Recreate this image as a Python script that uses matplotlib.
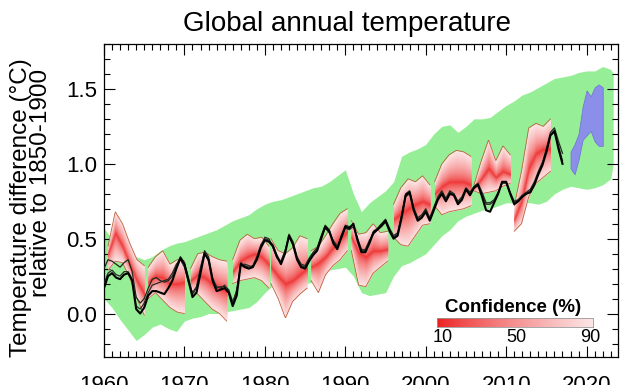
import numpy as np
import matplotlib.pyplot as plt
from matplotlib.colors import LinearSegmentedColormap
from matplotlib.ticker import MultipleLocator

plt.rcParams['font.family'] = ['Liberation Sans', 'DejaVu Sans']

# green envelope (yearly)
env_years = list(range(1960, 2024)) + [2023.3]
env_hi = [0.57, 0.50, 0.45, 0.42, 0.38, 0.36, 0.38, 0.42, 0.45, 0.47,
          0.48, 0.50, 0.52, 0.54, 0.56, 0.59, 0.62, 0.64, 0.66, 0.70,
          0.73, 0.75, 0.76, 0.78, 0.80, 0.82, 0.84, 0.85, 0.88, 0.92,
          0.96, 0.80, 0.68, 0.74, 0.78, 0.82, 0.88, 1.05, 1.08, 1.10,
          1.13, 1.20, 1.25, 1.26, 1.21, 1.25, 1.30, 1.30, 1.31, 1.35,
          1.39, 1.42, 1.46, 1.48, 1.51, 1.54, 1.57, 1.58, 1.59, 1.61,
          1.62, 1.62, 1.65, 1.63, 1.60]
env_lo = [0.10, 0.04, -0.04, -0.11, -0.18, -0.14, -0.09, -0.07, -0.10, -0.12,
          -0.05, -0.03, -0.02, 0.00, 0.00, 0.01, 0.02, 0.03, 0.04, 0.08,
          0.14, 0.19, 0.21, 0.22, 0.21, 0.20, 0.21, 0.25, 0.29, 0.30,
          0.31, 0.25, 0.14, 0.12, 0.13, 0.14, 0.25, 0.32, 0.34, 0.37,
          0.40, 0.46, 0.52, 0.56, 0.62, 0.65, 0.67, 0.69, 0.70, 0.72,
          0.74, 0.74, 0.74, 0.74, 0.73, 0.75, 0.80, 0.83, 0.85, 0.84,
          0.83, 0.84, 0.86, 0.90, 1.00]

# blue forecast region
blue_years = [2018.0, 2018.5, 2019.0, 2019.5, 2020.0, 2020.5, 2021.0, 2021.5, 2022.0]
blue_hi = [1.08, 1.13, 1.20, 1.38, 1.49, 1.45, 1.51, 1.53, 1.51]
blue_lo = [0.97, 0.93, 1.03, 1.16, 1.19, 1.22, 1.15, 1.12, 1.12]

# hindcast segments: start year, then 6 values over 4.5 years
seg_start = [1960.5, 1965.5, 1970.75, 1976.0, 1980.75, 1985.75,
             1990.75, 1996.0, 2001.1, 2006.0, 2011.0]
seg_hi = [[0.45, 0.68, 0.60, 0.47, 0.36, 0.32],
          [0.31, 0.38, 0.42, 0.33, 0.36, 0.35],
          [0.30, 0.40, 0.41, 0.38, 0.36, 0.35],
          [0.36, 0.49, 0.53, 0.50, 0.51, 0.45],
          [0.50, 0.42, 0.40, 0.44, 0.52, 0.50],
          [0.42, 0.45, 0.52, 0.60, 0.67, 0.70],
          [0.62, 0.53, 0.54, 0.60, 0.54, 0.55],
          [0.73, 0.84, 0.90, 0.88, 0.92, 0.86],
          [0.88, 1.00, 1.06, 1.09, 1.08, 1.05],
          [0.86, 1.02, 1.16, 1.02, 1.12, 1.06],
          [0.72, 0.95, 1.24, 1.27, 1.25, 1.30]]
seg_mid = [[0.40, 0.54, 0.45, 0.33, 0.22, 0.13],
           [0.21, 0.25, 0.24, 0.20, 0.20, 0.21],
           [0.22, 0.26, 0.24, 0.20, 0.17, 0.15],
           [0.28, 0.35, 0.38, 0.40, 0.38, 0.33],
           [0.31, 0.25, 0.20, 0.22, 0.26, 0.30],
           [0.31, 0.34, 0.38, 0.44, 0.50, 0.55],
           [0.51, 0.41, 0.38, 0.42, 0.42, 0.43],
           [0.63, 0.67, 0.70, 0.73, 0.75, 0.73],
           [0.80, 0.85, 0.88, 0.88, 0.88, 0.86],
           [0.84, 0.90, 0.97, 0.91, 0.95, 0.93],
           [0.63, 0.75, 0.97, 1.07, 1.10, 1.10]]
seg_lo = [[0.29, 0.35, 0.34, 0.24, 0.10, -0.01],
          [0.10, 0.14, 0.09, 0.04, 0.01, 0.00],
          [0.16, 0.13, 0.08, 0.03, 0.00, -0.05],
          [0.20, 0.22, 0.23, 0.24, 0.22, 0.17],
          [0.20, 0.10, -0.03, 0.08, 0.13, 0.17],
          [0.22, 0.14, 0.26, 0.32, 0.36, 0.42],
          [0.42, 0.19, 0.18, 0.27, 0.31, 0.35],
          [0.51, 0.46, 0.45, 0.52, 0.59, 0.60],
          [0.72, 0.66, 0.68, 0.69, 0.70, 0.72],
          [0.82, 0.80, 0.81, 0.82, 0.85, 0.87],
          [0.55, 0.60, 0.78, 0.87, 0.91, 0.95]]

# observations, half-yearly 1960-2017
obs_years = np.arange(1960.0, 2017.01, 0.5)
obs_a = [0.17, 0.25, 0.27, 0.24, 0.23, 0.26, 0.27, 0.22, 0.03, 0.00,
         0.04, 0.12, 0.15, 0.15, 0.14, 0.13, 0.17, 0.22, 0.30, 0.37,
         0.33, 0.22, 0.11, 0.14, 0.27, 0.40, 0.36, 0.22, 0.15, 0.16,
         0.17, 0.14, 0.05, 0.12, 0.33, 0.31, 0.30, 0.31, 0.36, 0.44,
         0.49, 0.48, 0.45, 0.38, 0.33, 0.40, 0.52, 0.46, 0.36, 0.31,
         0.30, 0.35, 0.39, 0.42, 0.50, 0.58, 0.55, 0.47, 0.43, 0.51,
         0.58, 0.57, 0.60, 0.49, 0.41, 0.41, 0.47, 0.54, 0.56, 0.59,
         0.62, 0.55, 0.50, 0.52, 0.64, 0.79, 0.81, 0.69, 0.62, 0.64,
         0.68, 0.62, 0.69, 0.76, 0.80, 0.75, 0.80, 0.79, 0.73, 0.76,
         0.83, 0.79, 0.84, 0.86, 0.78, 0.69, 0.68, 0.74, 0.80, 0.88,
         0.88, 0.80, 0.73, 0.75, 0.78, 0.80, 0.81, 0.86, 0.93, 0.99,
         1.08, 1.19, 1.22, 1.10, 1.00]
obs_b = [0.30, 0.36, 0.35, 0.33, 0.31, 0.34, 0.36, 0.28, 0.11, 0.07,
         0.10, 0.17, 0.23, 0.24, 0.22, 0.21, 0.22, 0.25, 0.32, 0.38,
         0.34, 0.24, 0.13, 0.17, 0.29, 0.42, 0.38, 0.24, 0.17, 0.18,
         0.18, 0.16, 0.08, 0.15, 0.34, 0.32, 0.31, 0.32, 0.38, 0.46,
         0.50, 0.49, 0.46, 0.39, 0.34, 0.41, 0.53, 0.48, 0.38, 0.33,
         0.32, 0.37, 0.41, 0.44, 0.52, 0.59, 0.56, 0.48, 0.44, 0.52,
         0.59, 0.58, 0.59, 0.50, 0.43, 0.42, 0.48, 0.55, 0.57, 0.60,
         0.63, 0.57, 0.52, 0.54, 0.66, 0.80, 0.82, 0.71, 0.64, 0.66,
         0.70, 0.64, 0.71, 0.78, 0.82, 0.77, 0.82, 0.80, 0.75, 0.78,
         0.84, 0.81, 0.85, 0.87, 0.81, 0.74, 0.74, 0.76, 0.81, 0.88,
         0.88, 0.81, 0.75, 0.76, 0.79, 0.81, 0.83, 0.88, 0.95, 1.01,
         1.10, 1.21, 1.24, 1.15, 1.07]
obs_c = [0.20, 0.27, 0.29, 0.26, 0.25, 0.28, 0.28, 0.23, 0.05, 0.03,
         0.07, 0.14, 0.19, 0.20, 0.21, 0.22, 0.23, 0.27, 0.33, 0.36,
         0.31, 0.21, 0.14, 0.18, 0.31, 0.41, 0.35, 0.23, 0.18, 0.17,
         0.19, 0.15, 0.06, 0.16, 0.32, 0.33, 0.32, 0.31, 0.37, 0.45,
         0.51, 0.50, 0.44, 0.37, 0.35, 0.42, 0.51, 0.47, 0.37, 0.32,
         0.31, 0.36, 0.40, 0.43, 0.51, 0.57, 0.54, 0.49, 0.45, 0.50,
         0.57, 0.56, 0.58, 0.51, 0.42, 0.43, 0.49, 0.53, 0.56, 0.58,
         0.61, 0.56, 0.51, 0.53, 0.65, 0.78, 0.80, 0.70, 0.63, 0.65,
         0.69, 0.63, 0.70, 0.77, 0.81, 0.76, 0.81, 0.80, 0.74, 0.77,
         0.83, 0.80, 0.84, 0.86, 0.80, 0.73, 0.73, 0.75, 0.80, 0.87,
         0.87, 0.80, 0.74, 0.76, 0.78, 0.80, 0.82, 0.87, 0.94, 1.00,
         1.08, 1.19, 1.21, 1.12, 1.02]

conf_labels = ['10', '50', '90']

red = np.array([0.93, 0.12, 0.12])
pale = np.array([0.99, 0.90, 0.90])

fig = plt.figure(figsize=(6.3, 3.85), dpi=100)
ax = fig.add_axes([104/630, 1-357/385, 514/630, 313/385])

ax.fill_between(env_years, env_lo, env_hi, color='#96ee96', lw=0, zorder=1)
ax.fill_between(blue_years, blue_lo, blue_hi, color='#8b8fea', edgecolor='#7477d8',
                lw=0.6, zorder=2)

offs = np.linspace(0, 4.5, 6)
for s, lo, mid, hi in zip(seg_start, seg_lo, seg_mid, seg_hi):
    t = s + offs
    tt = np.linspace(t[0], t[-1], 80)
    lo_i = np.interp(tt, t, lo)
    mid_i = np.interp(tt, t, mid)
    hi_i = np.interp(tt, t, hi)
    for f in np.linspace(1, 0.03, 30):
        c = red + (pale - red) * f ** 0.55
        ax.fill_between(tt, mid_i - f * (mid_i - lo_i), mid_i + f * (hi_i - mid_i),
                        color=c, lw=0, zorder=3)
    ax.plot(tt, hi_i, color='#c0603c', lw=0.6, zorder=4)
    ax.plot(tt, lo_i, color='#c0603c', lw=0.6, zorder=4)

ax.plot(obs_years, obs_b, color='#1c2c1c', lw=0.9, zorder=5)
ax.plot(obs_years, obs_c, color='#2a2a2a', lw=0.9, zorder=5)
ax.plot(obs_years, obs_a, color='black', lw=1.5, zorder=6)

ax.set_xlim(1960, 2023.9)
ax.set_ylim(-0.29, 1.8)
ax.set_xticks(range(1960, 2021, 10))
ax.set_yticks([0.0, 0.5, 1.0, 1.5])
ax.set_yticklabels(['0.0', '0.5', '1.0', '1.5'])
ax.xaxis.set_minor_locator(MultipleLocator(1))
ax.yaxis.set_minor_locator(MultipleLocator(0.1))
ax.tick_params(which='both', direction='in', top=True, right=True, width=0.8)
ax.tick_params(which='major', length=8, labelsize=16)
ax.tick_params(which='minor', length=4)
ax.tick_params(axis='x', pad=13)
ax.tick_params(axis='y', pad=5)
for sp in ax.spines.values():
    sp.set_linewidth(0.9)

fig.text(347/630, 1-24/385, 'Global annual temperature', fontsize=20,
         ha='center', va='center')
fig.text(21/630, 1-208/385, 'Temperature difference (°C)', fontsize=17.5,
         rotation=90, ha='center', va='center')
fig.text(41/630, 1-183/385, 'relative to 1850-1900', fontsize=17.5,
         rotation=90, ha='center', va='center')

# confidence colour bar
cax = fig.add_axes([437/630, 1-327/385, 156/630, 9/385])
cmap = LinearSegmentedColormap.from_list('conf', [red, pale])
cax.imshow(np.linspace(0, 1, 100)[None, :] ** 0.8, aspect='auto', cmap=cmap)
cax.set_xticks([])
cax.set_yticks([])
for sp in cax.spines.values():
    sp.set_linewidth(0.6)
    sp.set_color('#999999')
fig.text(513/630, 1-307/385, 'Confidence (%)', fontsize=13.5, fontweight='bold',
         ha='center', va='center')
for lab, xp in zip(conf_labels, [443, 516, 590]):
    fig.text(xp/630, 1-338/385, lab, fontsize=13, ha='center', va='center')

fig.savefig('out.png', dpi=100)
